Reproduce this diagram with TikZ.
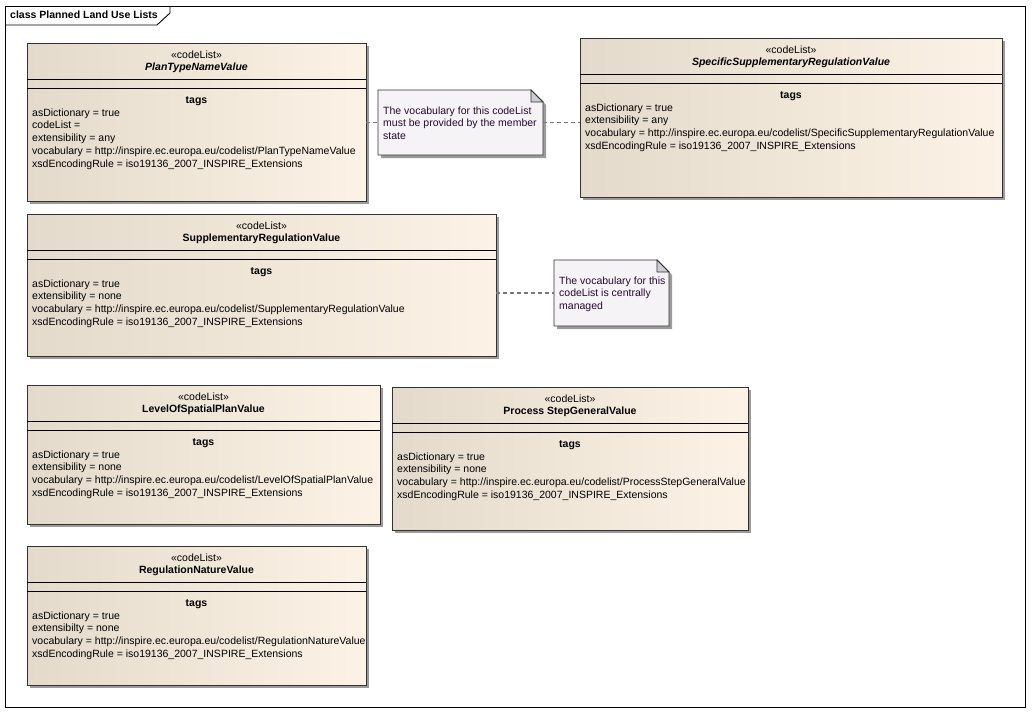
\documentclass[tikz,border=0pt]{standalone}
\usepackage{fontspec}
\setmainfont{Liberation Sans}
\usetikzlibrary{shadows}

\definecolor{clleft}{RGB}{227,218,203}
\definecolor{clright}{RGB}{252,243,230}
\definecolor{notefill}{RGB}{246,243,247}
\definecolor{notetext}{RGB}{38,10,48}
\definecolor{foldfill}{RGB}{205,205,212}
\definecolor{shadowc}{RGB}{155,155,155}
\definecolor{conn}{RGB}{120,120,120}
\definecolor{edge}{RGB}{50,50,50}

\tikzset{
  boxstyle/.style={draw=edge, line width=0.9pt, left color=clleft, right color=clright,
    drop shadow={shadow xshift=3pt, shadow yshift=-3pt, fill=shadowc, opacity=1},
    inner sep=0pt, outer sep=0pt},
  txt/.style={font=\fontsize{10.5}{12.6}\selectfont, inner sep=0pt, text height=7.5pt, text depth=2pt},
  sep/.style={draw=black, line width=0.9pt},
  conline/.style={draw=conn, line width=1.3pt, dash pattern=on 4pt off 3pt},
  hold/.style={inner sep=0pt, outer sep=0pt},
}

\newcommand{\clbox}[7]{%
  \node[boxstyle, minimum width=#4pt-#2pt, minimum height=#5pt-#3pt]
     (#1) at ({(#2+#4)/2},{(#3+#5)/2}) {};
  \draw[sep] ([yshift=-36.5pt]#1.north west) -- ([yshift=-36.5pt]#1.north east);
  \draw[sep] ([yshift=-45pt]#1.north west) -- ([yshift=-45pt]#1.north east);
  \node[txt] (#1-st) at ([yshift=-12.3pt]#1.north) {«codeList»};
  \node[txt] (#1-nm) at ([yshift=-24.3pt]#1.north) {#6};
  \node[txt,font=\fontsize{10.5}{12.6}\selectfont\bfseries] (#1-tg) at ([yshift=-57.3pt]#1.north) {tags};
  \foreach \l [count=\i] in {#7} {
    \node[txt, anchor=west] (#1-l\i) at ([xshift=5pt, yshift={-(70.3+(\i-1)*12.9)*1pt}]#1.north west) {\l};
  }
}

\newcommand{\clnote}[6]{%
  \node[hold, minimum width=#4pt-#2pt, minimum height=#5pt-#3pt]
     (#1) at ({(#2+#4)/2},{(#3+#5)/2}) {};
  \fill[shadowc] ([xshift=3pt,yshift=-3pt]#1.north west) -- ([xshift=-9pt,yshift=-3pt]#1.north east)
     -- ([xshift=3pt,yshift=-15pt]#1.north east) -- ([xshift=3pt,yshift=-3pt]#1.south east)
     -- ([xshift=3pt,yshift=-3pt]#1.south west) -- cycle;
  \filldraw[fill=notefill, draw=edge, line width=0.9pt] (#1.north west) -- ([xshift=-12pt]#1.north east)
     -- ([yshift=-12pt]#1.north east) -- (#1.south east) -- (#1.south west) -- cycle;
  \filldraw[fill=foldfill, draw=edge, line width=0.9pt] ([xshift=-12pt]#1.north east)
     -- ([xshift=-12pt,yshift=-12pt]#1.north east) -- ([yshift=-12pt]#1.north east) -- cycle;
  \foreach \l [count=\i] in {#6} {
    \node[txt, anchor=west, text=notetext] (#1-l\i) at ([xshift=5pt, yshift={-(21.8+(\i-1)*12.3)*1pt}]#1.north west) {\l};
  }
}

\begin{document}
\begin{tikzpicture}[x=1pt, y=-1pt]
  \useasboundingbox (0,0) rectangle (1032,712);
  \fill[white] (0,0) rectangle (1032,712);

  % frame
  \node[hold, draw=black, line width=1pt, minimum width=1020pt, minimum height=701pt] (frame) at (515,356.5) {};
  \coordinate (tabA) at (5,25);
  \coordinate (tabB) at (157,25);
  \coordinate (tabC) at (170,13);
  \coordinate (tabD) at (170,6);
  \draw[line width=0.9pt] (tabA) -- (tabB) -- (tabC) -- (tabD);
  \node[txt, font=\fontsize{10.5}{12.6}\selectfont\bfseries, anchor=west] (title) at (10,16) {class Planned Land Use Lists};

  \clbox{ptn}{27}{43}{366}{201}{\bfseries\itshape PlanTypeNameValue}{asDictionary = true, codeList = , extensibility = any, vocabulary = http://inspire.ec.europa.eu/codelist/PlanTypeNameValue, xsdEncodingRule = iso19136\_2007\_INSPIRE\_Extensions}

  \clbox{ssr}{580}{38}{1002}{197}{\bfseries\itshape SpecificSupplementaryRegulationValue}{asDictionary = true, extensibility = any, vocabulary = http://inspire.ec.europa.eu/codelist/SpecificSupplementaryRegulationValue, xsdEncodingRule = iso19136\_2007\_INSPIRE\_Extensions}

  \clbox{srv}{27}{214}{496}{356}{\bfseries SupplementaryRegulationValue}{asDictionary = true, extensibility = none, vocabulary = http://inspire.ec.europa.eu/codelist/SupplementaryRegulationValue, xsdEncodingRule = iso19136\_2007\_INSPIRE\_Extensions}

  \clbox{lsp}{27}{385}{380}{524}{\bfseries LevelOfSpatialPlanValue}{asDictionary = true, extensibility = none, vocabulary = http://inspire.ec.europa.eu/codelist/LevelOfSpatialPlanValue, xsdEncodingRule = iso19136\_2007\_INSPIRE\_Extensions}

  \clbox{psg}{392}{387}{748}{530}{\bfseries Process StepGeneralValue}{asDictionary = true, extensibility = none, vocabulary = http://inspire.ec.europa.eu/codelist/ProcessStepGeneralValue, xsdEncodingRule = iso19136\_2007\_INSPIRE\_Extensions}

  \clbox{rnv}{27}{546}{366}{685}{\bfseries RegulationNatureValue}{asDictionary = true, extensibilty = none, vocabulary = http://inspire.ec.europa.eu/codelist/RegulationNatureValue, xsdEncodingRule = iso19136\_2007\_INSPIRE\_Extensions}

  \clnote{noteA}{378}{90}{543}{155}{The vocabulary for this codeList, must be provided by the member, state}
  \clnote{noteB}{554}{260}{669}{326}{The vocabulary for this, codeList is centrally, managed}

  \draw[conline] (noteA.west -| ptn.east) -- (noteA.west);
  \draw[conline] (noteA.east) -- (noteA.east -| ssr.west);
  \draw[conline] (noteB.west -| srv.east) -- (noteB.west);
\end{tikzpicture}
\end{document}
